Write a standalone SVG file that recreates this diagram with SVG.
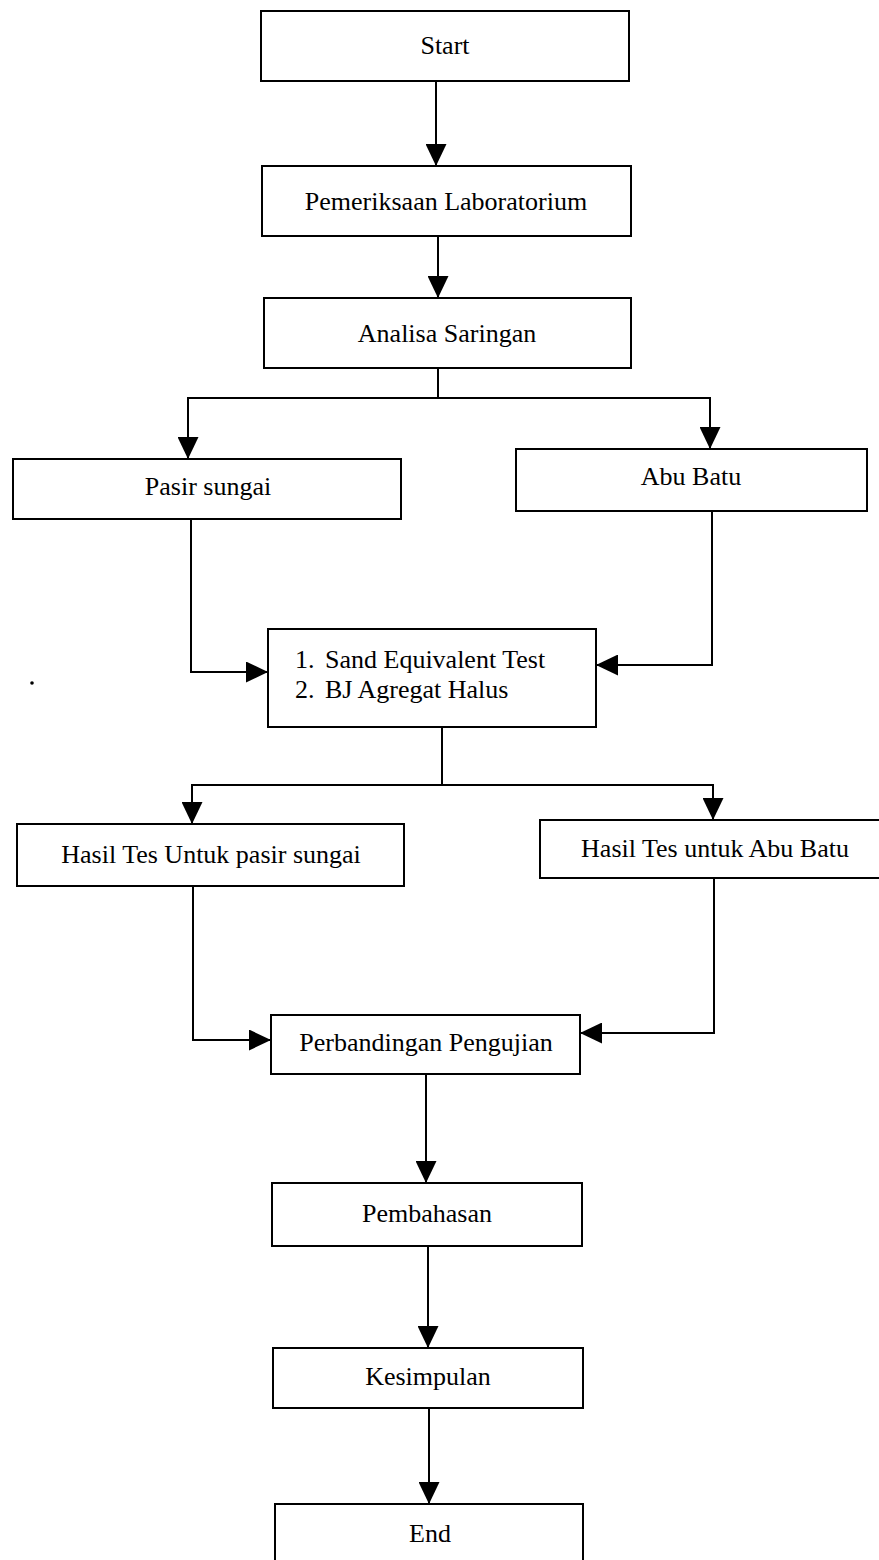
<svg xmlns="http://www.w3.org/2000/svg" width="879" height="1560" viewBox="0 0 879 1560">
<style>
.box{fill:#fff;stroke:#000;stroke-width:2}
.lbl{font-family:"Liberation Serif","Times New Roman",serif;font-size:26px;fill:#000;text-anchor:middle}
.lft{text-anchor:start}
.con{fill:none;stroke:#000;stroke-width:2}
</style>
<defs>
<marker id="ah" viewBox="0 0 22 21" refX="22" refY="10.5" markerWidth="22" markerHeight="21" markerUnits="userSpaceOnUse" orient="auto">
<path d="M0,0 L22,10.5 L0,21 z" fill="#000"/>
</marker>
</defs>
<rect width="879" height="1560" fill="#fff"/>
<g id="connectors">
<path class="con" d="M436,81 V166" marker-end="url(#ah)"/>
<path class="con" d="M438,236 V298" marker-end="url(#ah)"/>
<path class="con" d="M438,368 V398 H188 V459" marker-end="url(#ah)"/>
<path class="con" d="M438,398 H710 V449" marker-end="url(#ah)"/>
<path class="con" d="M191,519 V672 H268" marker-end="url(#ah)"/>
<path class="con" d="M712,511 V665 H596" marker-end="url(#ah)"/>
<path class="con" d="M442,727 V785 H192 V824" marker-end="url(#ah)"/>
<path class="con" d="M442,785 H713 V820" marker-end="url(#ah)"/>
<path class="con" d="M193,886 V1040 H271" marker-end="url(#ah)"/>
<path class="con" d="M714,878 V1033 H580" marker-end="url(#ah)"/>
<path class="con" d="M426,1074 V1183" marker-end="url(#ah)"/>
<path class="con" d="M428,1246 V1348" marker-end="url(#ah)"/>
<path class="con" d="M429,1408 V1504" marker-end="url(#ah)"/>
</g>
<g id="start"><rect class="box" x="261" y="11" width="368" height="70"/><text class="lbl" x="445" y="54">Start</text></g>
<g id="pemeriksaan"><rect class="box" x="262" y="166" width="369" height="70"/><text class="lbl" x="446" y="210">Pemeriksaan Laboratorium</text></g>
<g id="analisa"><rect class="box" x="264" y="298" width="367" height="70"/><text class="lbl" x="447" y="342">Analisa Saringan</text></g>
<g id="pasir"><rect class="box" x="13" y="459" width="388" height="60"/><text class="lbl" x="208" y="495">Pasir sungai</text></g>
<g id="abu"><rect class="box" x="516" y="449" width="351" height="62"/><text class="lbl" x="691" y="485">Abu Batu</text></g>
<g id="tests"><rect class="box" x="268" y="629" width="328" height="98"/>
<text class="lbl lft" x="295" y="668">1.</text><text class="lbl lft" x="325" y="668">Sand Equivalent Test</text>
<text class="lbl lft" x="295" y="698">2.</text><text class="lbl lft" x="325" y="698">BJ Agregat Halus</text></g>
<g id="hasil-pasir"><rect class="box" x="17" y="824" width="387" height="62"/><text class="lbl" x="211" y="863">Hasil Tes Untuk pasir sungai</text></g>
<g id="hasil-abu"><rect class="box" x="540" y="820" width="345" height="58"/><text class="lbl" x="715" y="857">Hasil Tes untuk Abu Batu</text></g>
<g id="perbandingan"><rect class="box" x="271" y="1015" width="309" height="59"/><text class="lbl" x="426" y="1051">Perbandingan Pengujian</text></g>
<g id="pembahasan"><rect class="box" x="272" y="1183" width="310" height="63"/><text class="lbl" x="427" y="1222">Pembahasan</text></g>
<g id="kesimpulan"><rect class="box" x="273" y="1348" width="310" height="60"/><text class="lbl" x="428" y="1385">Kesimpulan</text></g>
<g id="end"><rect class="box" x="275" y="1504" width="308" height="70"/><text class="lbl" x="430" y="1542">End</text></g>
<circle cx="32" cy="683" r="1.8" fill="#000"/>
</svg>
